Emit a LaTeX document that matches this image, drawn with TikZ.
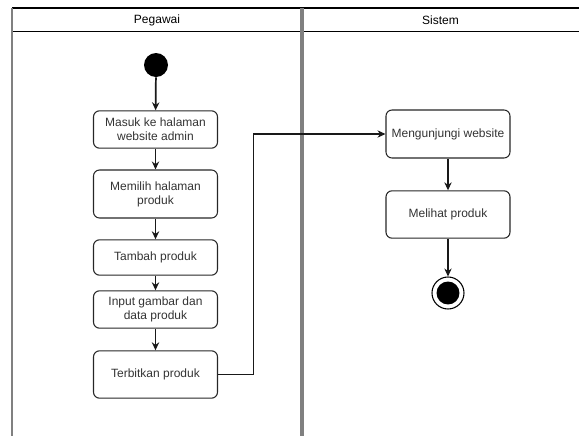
\documentclass[tikz,border=0pt]{standalone}
\usepackage{fontspec}
\setmainfont{Liberation Sans}
\usetikzlibrary{arrows.meta,positioning,calc}

\begin{document}
\begin{tikzpicture}[x=0.75pt,y=-0.75pt,
	aksi/.style={rectangle,rounded corners=4.5pt,draw=black!85,line width=0.8pt,minimum width=93pt,inner sep=1pt,align=center,font=\fontsize{9}{10.5}\selectfont,text=black!80},
	judul/.style={font=\fontsize{9}{10.5}\selectfont,text=black},
	mulai/.style={circle,fill=black,minimum size=18pt,inner sep=0pt},
	akhir/.style={circle,draw=black,line width=0.8pt,fill=white,minimum size=24pt,inner sep=0pt},
	alir/.style={-{Stealth[length=6pt,width=5.5pt]},line width=1.3pt,black!90},
	alirtipis/.style={-{Stealth[length=6pt,width=5.5pt]},line width=0.8pt,black!90}]
	\useasboundingbox (0,0) rectangle (579,436);
	% swimlane
	\draw[line width=1pt] (12,8) -- (579,8);
	\draw[line width=1pt] (12,31.5) -- (579,31.5);
	\draw[gray,line width=1.5pt] (12,8) -- (12,436);
	\draw[gray,line width=2.5pt] (302,8) -- (302,436);
	\node[judul](pegawai) at (157,20){Pegawai};
	\node[judul](sistem) at (440.5,20){Sistem};
	% Pegawai
	\node[mulai](start) at (156,65){};
	\node[aksi,minimum height=28pt](masuk) at (155.5,129.5){Masuk ke halaman\\website admin};
	\node[aksi,minimum height=36pt](memilih) at (155.5,194){Memilih halaman\\produk};
	\node[aksi,minimum height=26.5pt](tambah) at (155.5,257.5){Tambah produk};
	\node[aksi,minimum height=28pt](input) at (155.5,309.5){Input gambar dan\\data produk};
	\node[aksi,minimum height=35.5pt](terbit) at (155.5,374.5){Terbitkan produk};
	% Sistem
	\node[aksi,minimum height=36pt](kunjungi) at (448,134){Mengunjungi website};
	\node[aksi,minimum height=35.5pt](melihat) at (448,214.5){Melihat produk};
	\node[akhir](selesai) at (448,293){};
	\fill (selesai.center) circle (8.6pt);
	\draw[alir] (start) -- (masuk);
	\draw[alir] (masuk) -- (memilih);
	\draw[alir] (memilih) -- (tambah);
	\draw[alir] (tambah) -- (input);
	\draw[alir] (input) -- (terbit);
	\draw[alirtipis] (terbit.east) -- ++(35,0) |- (kunjungi.west);
	\draw[alirtipis] (kunjungi) -- (melihat);
	\draw[alirtipis] (melihat) -- (selesai);
\end{tikzpicture}
\end{document}
